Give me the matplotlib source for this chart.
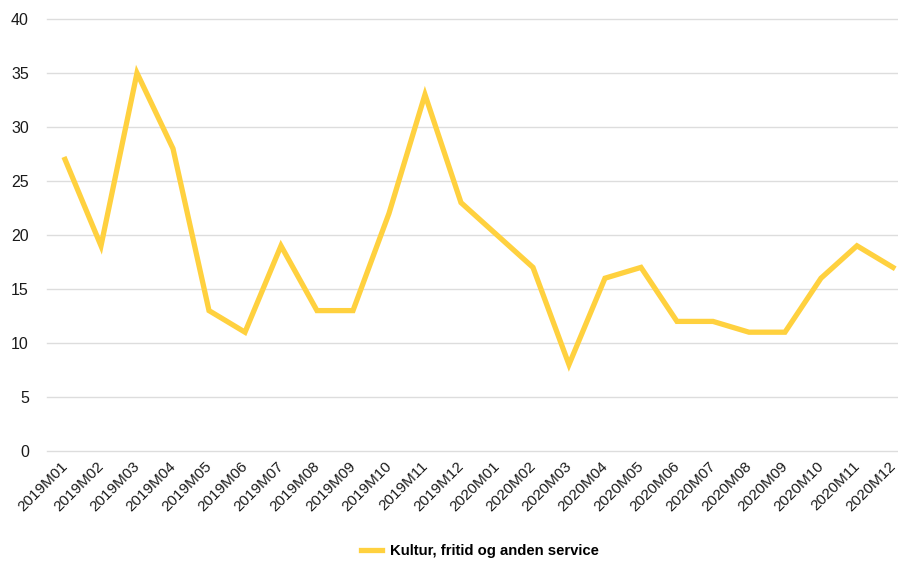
import matplotlib
matplotlib.use("Agg")
import matplotlib.pyplot as plt

categories = ["2019M01", "2019M02", "2019M03", "2019M04", "2019M05", "2019M06",
              "2019M07", "2019M08", "2019M09", "2019M10", "2019M11", "2019M12",
              "2020M01", "2020M02", "2020M03", "2020M04", "2020M05", "2020M06",
              "2020M07", "2020M08", "2020M09", "2020M10", "2020M11", "2020M12"]
values = [27, 19, 35, 28, 13, 11, 19, 13, 13, 22, 33, 23,
          20, 17, 8, 16, 17, 12, 12, 11, 11, 16, 19, 17]
series_name = "Kultur, fritid og anden service"
yticks = [0, 5, 10, 15, 20, 25, 30, 35, 40]

plt.rcParams['font.family'] = ['Liberation Sans', 'DejaVu Sans']

W, H = 898, 561
fig = plt.figure(figsize=(W / 100, H / 100), dpi=100)
ax = fig.add_axes([47 / W, (H - 451) / H, (W - 47) / W, (451 - 19) / H])

x = list(range(len(categories)))
ax.plot(x, values, color="#FFD13F", linewidth=3.8, solid_joinstyle="miter",
        label=series_name, zorder=3)

ax.set_xlim(-0.5, 23.14)
ax.set_ylim(0, 40)
ax.set_yticks(yticks)
ax.set_yticklabels([str(v) for v in yticks], fontsize=11.5, color="#1a1a1a")
ax.set_xticks(x)
ax.set_xticklabels([])
for i, cat in zip(x, categories):
    ax.annotate(cat, xy=(i, 0), xycoords=("data", "axes fraction"),
                xytext=(-3, -6), textcoords="offset points",
                rotation=45, ha="right", va="top", rotation_mode="anchor",
                fontsize=11, color="#1a1a1a", annotation_clip=False)
ax.tick_params(axis="both", length=0)
ax.tick_params(axis="y", pad=13)
ax.grid(axis="y", color="#dddddd", linewidth=1)
for gl in ax.get_ygridlines():
    gl.set_clip_on(False)
ax.set_axisbelow(True)
for s in ax.spines.values():
    s.set_visible(False)

leg = fig.legend(loc="center", bbox_to_anchor=(480 / W, (H - 551) / H),
                 frameon=False, prop={"weight": "bold", "size": 10.7},
                 handlelength=1.4, handletextpad=0.5)

fig.savefig("out.png", dpi=100)
